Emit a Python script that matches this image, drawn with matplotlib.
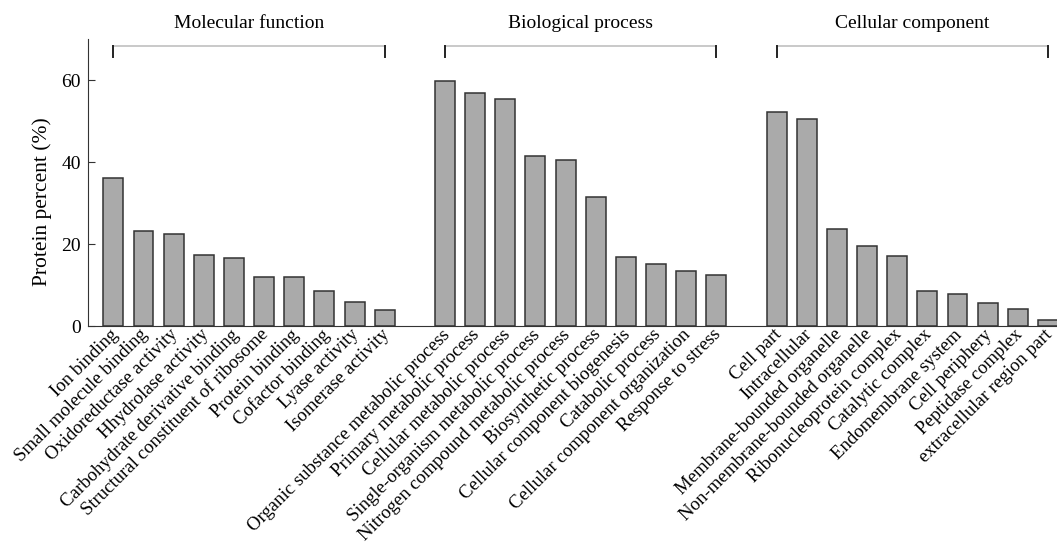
import matplotlib
matplotlib.use("Agg")
import matplotlib.pyplot as plt
import matplotlib.transforms as mtransforms
import numpy as np

plt.rcParams['font.family'] = ['Liberation Serif', 'DejaVu Serif']

groups = ["Molecular function", "Biological process", "Cellular component"]

mf_terms = ["Ion binding", "Small molecule binding", "Oxidoreductase activity",
            "Hhydrolase activity", "Carbohydrate derivative binding",
            "Structural constituent of ribosome", "Protein binding",
            "Cofactor binding", "Lyase activity", "Isomerase activity"]
mf_vals = [36.0, 23.1, 22.4, 17.4, 16.5, 11.9, 11.9, 8.6, 5.9, 3.8]

bp_terms = ["Organic substance metabolic process", "Primary metabolic process",
            "Cellular metabolic process", "Single-organism metabolic process",
            "Nitrogen compound metabolic process", "Biosynthetic process",
            "Cellular component biogenesis", "Catabolic process",
            "Cellular component organization", "Response to stress"]
bp_vals = [59.7, 56.8, 55.4, 41.4, 40.5, 31.4, 16.8, 15.1, 13.3, 12.5]

cc_terms = ["Cell part", "Intracellular", "Membrane-bounded organelle",
            "Non-membrane-bounded organelle", "Ribonucleoprotein complex",
            "Catalytic complex", "Endomembrane system", "Cell periphery",
            "Peptidase complex", "extracellular region part"]
cc_vals = [52.2, 50.6, 23.6, 19.6, 17.0, 8.6, 7.7, 5.6, 4.1, 1.4]

terms_by_group = [mf_terms, bp_terms, cc_terms]
vals_by_group = [mf_vals, bp_vals, cc_vals]

fig = plt.figure(figsize=(10.57, 5.47), dpi=100)
ax = fig.add_axes([0.0833, 0.404, 0.9167, 0.5247])

all_x = []
all_labels = []
start = 0
for g, (terms, vals) in enumerate(zip(terms_by_group, vals_by_group)):
    x = np.arange(len(vals)) + start
    ax.bar(x, vals, width=0.66, color="#aaaaaa", edgecolor="#333333", linewidth=1.1)
    # bracket over the group
    ax.plot([x[0], x[-1]], [68.4, 68.4], color="#c0c0c0", lw=1.2, clip_on=False)
    for xe in (x[0], x[-1]):
        ax.plot([xe, xe], [68.4, 65.6], color="#222222", lw=1.4, clip_on=False)
    ax.text((x[0] + x[-1]) / 2, 73.8, groups[g], ha="center", va="center",
            fontsize=14, clip_on=False)
    all_x.extend(x)
    all_labels.extend(terms)
    start += len(vals) + 1

ax.set_xlim(-0.84, 31.3)
ax.set_ylim(0, 70)
ax.set_xticks(all_x)
ax.set_xticklabels(all_labels, rotation=45, ha="right", va="top",
                   rotation_mode="anchor", fontsize=13.5)
ax.tick_params(axis="x", length=0, pad=3)
# nudge the slanted labels so they end under the bars
shift = mtransforms.ScaledTranslation(-4 / 100, 4 / 100, fig.dpi_scale_trans)
for lab in ax.get_xticklabels():
    lab.set_transform(lab.get_transform() + shift)

ax.set_yticks([0, 20, 40, 60])
ax.tick_params(axis="y", direction="in", length=5, labelsize=14, pad=5, color="#333333")
ax.set_ylabel("Protein percent (%)", fontsize=15.5)
ax.yaxis.set_label_coords(-0.037, 0.435)

for s in ("top", "right"):
    ax.spines[s].set_visible(False)
ax.spines["left"].set_color("#333333")
ax.spines["bottom"].set_color("#333333")

fig.savefig("out.png", dpi=100)
